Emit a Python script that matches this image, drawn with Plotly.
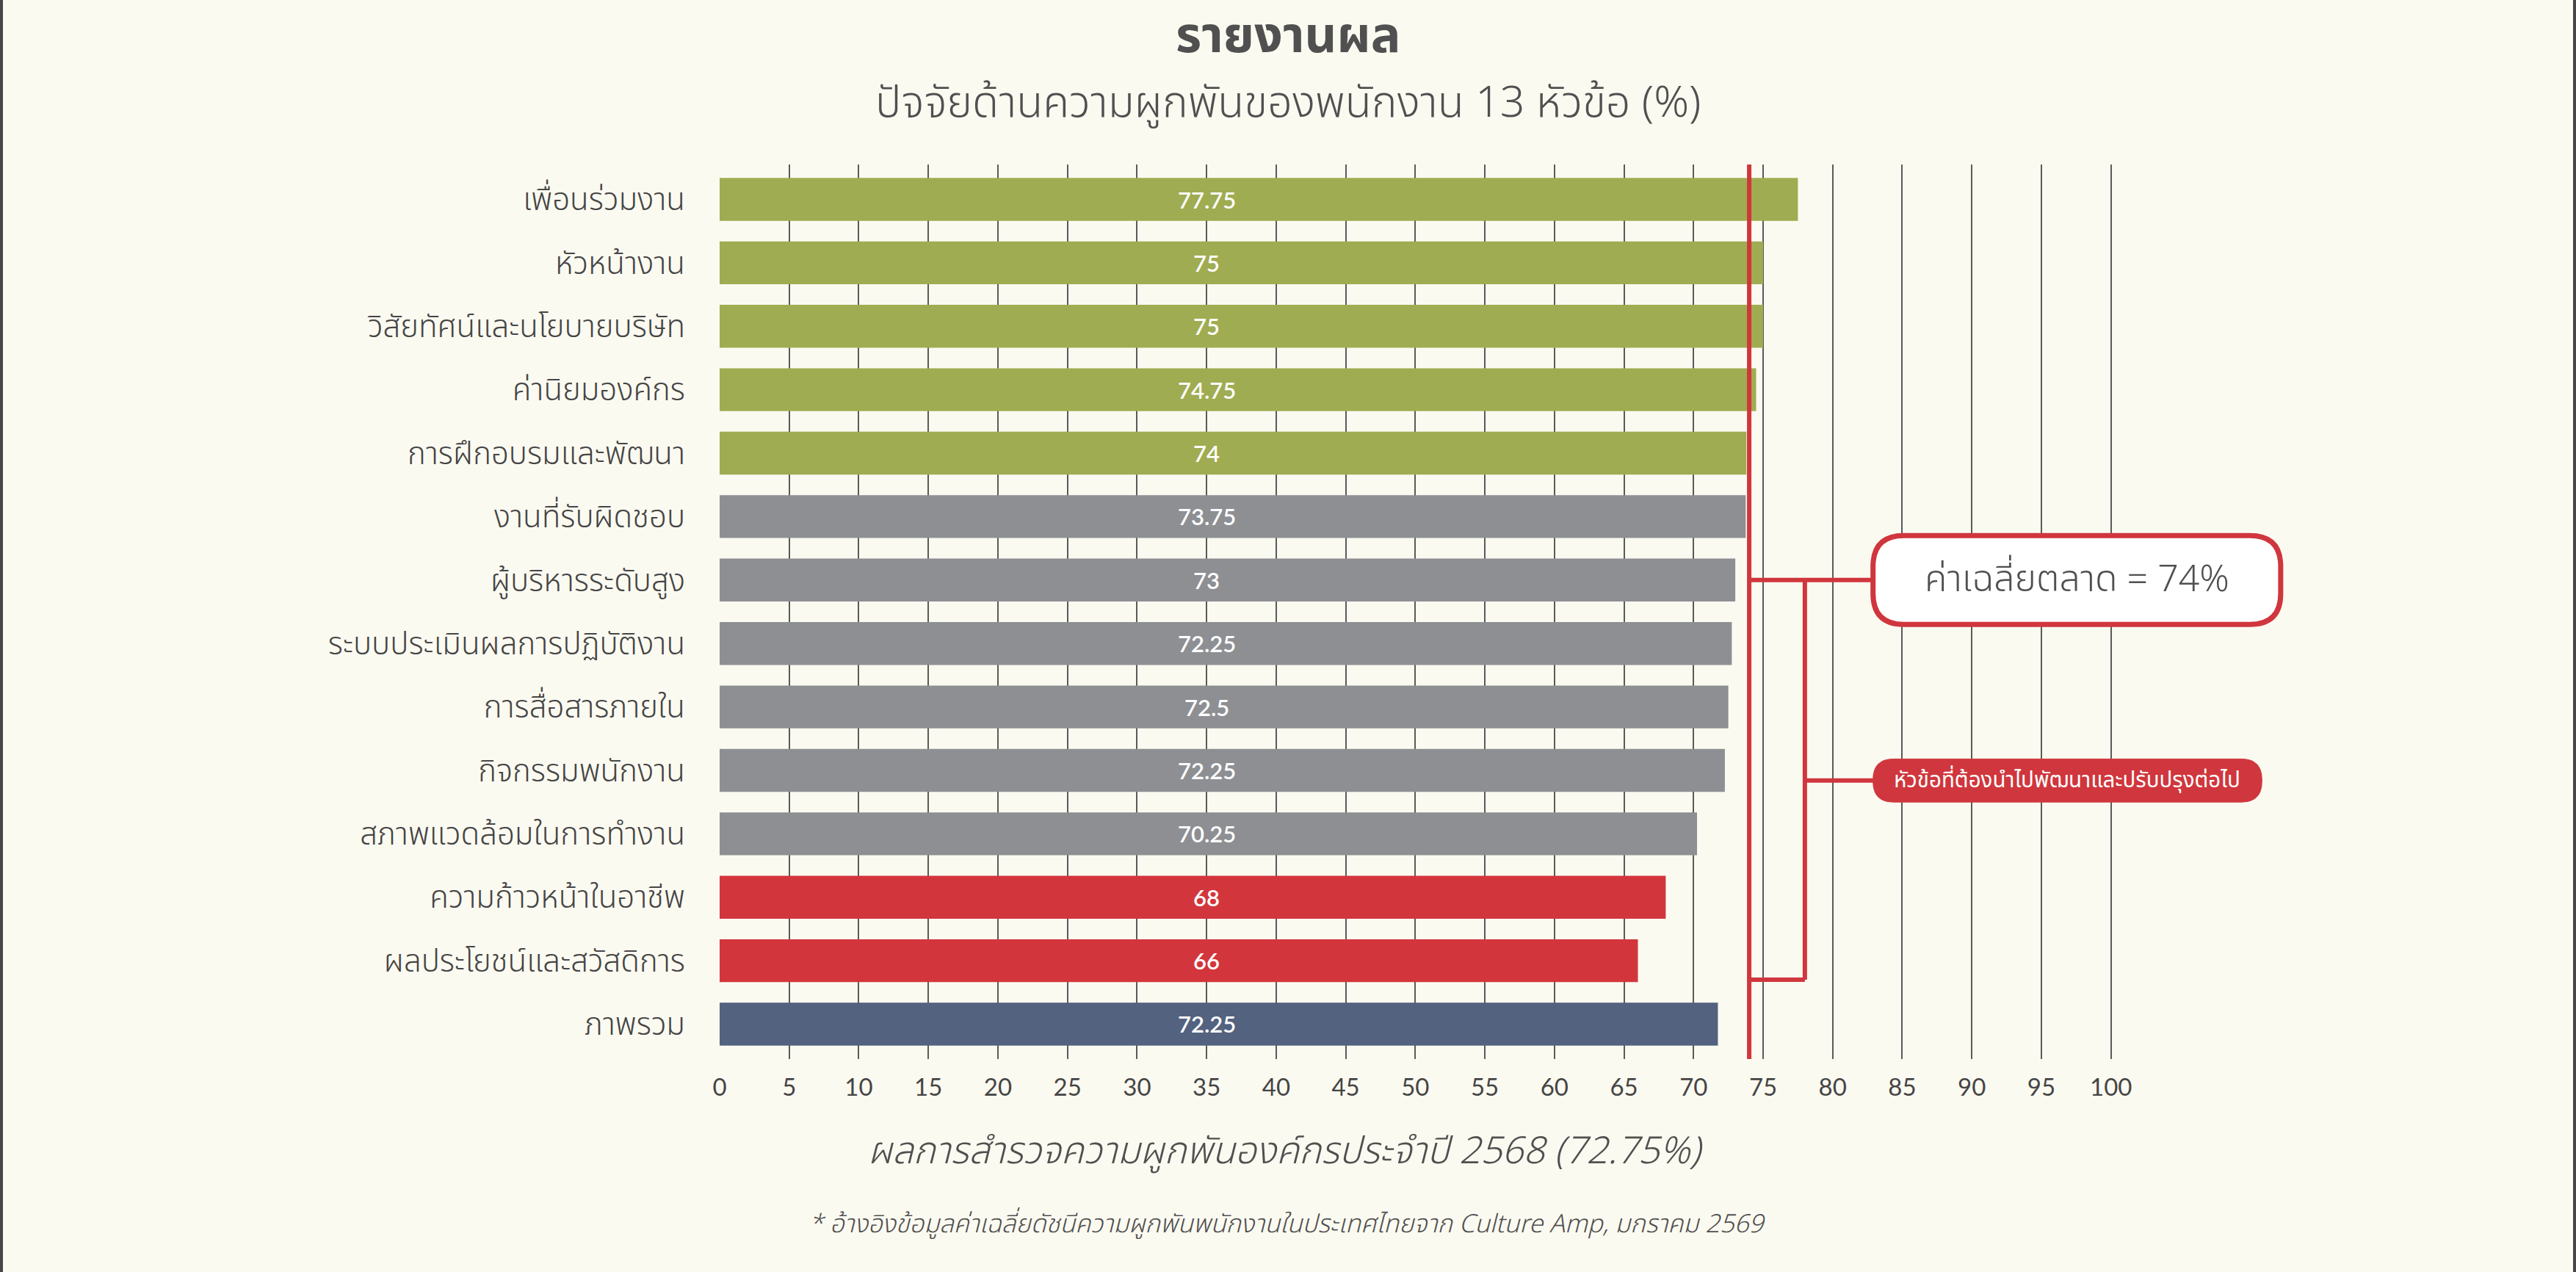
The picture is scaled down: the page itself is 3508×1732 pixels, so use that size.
import plotly.graph_objects as go

# ---------------- data ----------------
categories = [
    "เพื่อนร่วมงาน", "หัวหน้างาน", "วิสัยทัศน์และนโยบายบริษัท", "ค่านิยมองค์กร",
    "การฝึกอบรมและพัฒนา", "งานที่รับผิดชอบ", "ผู้บริหารระดับสูง",
    "ระบบประเมินผลการปฏิบัติงาน", "การสื่อสารภายใน", "กิจกรรมพนักงาน",
    "สภาพแวดล้อมในการทำงาน", "ความก้าวหน้าในอาชีพ", "ผลประโยชน์และสวัสดิการ", "ภาพรวม",
]
values = [77.5, 75, 75, 74.5, 73.8, 73.75, 73, 72.75, 72.5, 72.25, 70.25, 68, 66, 71.75]
value_labels = ["77.75", "75", "75", "74.75", "74", "73.75", "73", "72.25", "72.5",
                "72.25", "70.25", "68", "66", "72.25"]
groups = ["strength"] * 5 + ["neutral"] * 6 + ["improve"] * 2 + ["overall"]
market_avg = 74
x_ticks = list(range(0, 101, 5))

title = "รายงานผล"
subtitle = "ปัจจัยด้านความผูกพันของพนักงาน 13 หัวข้อ (%)"
x_title = "ผลการสำรวจความผูกพันองค์กรประจำปี 2568 (72.75%)"
footnote = "* อ้างอิงข้อมูลค่าเฉลี่ยดัชนีความผูกพันพนักงานในประเทศไทยจาก Culture Amp, มกราคม 2569"
avg_text = "ค่าเฉลี่ยตลาด = 74%"
improve_text = "หัวข้อที่ต้องนำไปพัฒนาและปรับปรุงต่อไป"

# ---------------- style ----------------
W, H = 3508, 1732
L, R, T, B = 980, 387, 224, 290
PW, PH = W - L - R, H - T - B
X_MAX = 113
BG = "#FBFAF1"
RED = "#D0363D"
TXT = "#505050"
GRID = "#5a5a5a"
group_colors = {"strength": "#A0AC51", "neutral": "#8E8F93", "improve": "#D2363C", "overall": "#53627F"}
THAI = "Noto Sans Thai, Noto Sans, sans-serif"
NUM = "Lato, Noto Sans, sans-serif"

def pxx(p):
    return (p - L) / PW

def pxy(p):
    return (H - B - p) / PH

n = len(categories)
fig = go.Figure()
fig.add_trace(go.Bar(
    y=categories, x=values, orientation="h",
    marker=dict(color=[group_colors[g] for g in groups], line=dict(width=0)),
    hoverinfo="skip", showlegend=False,
))

annotations = []
for cat, lab in zip(categories, value_labels):
    annotations.append(dict(x=35, y=cat, xref="x", yref="y", text=lab, showarrow=False,
                            font=dict(family=NUM, size=31, color="white", weight=600),
                            xanchor="center", yanchor="middle"))

shapes = []
line_w = 6
# market average line
shapes.append(dict(type="line", xref="x", yref="y", x0=market_avg, x1=market_avg,
                   y0=-0.55, y1=n - 0.45, line=dict(color=RED, width=line_w), layer="above"))
# bracket
bx = 78
row_avg = 6
row_bottom = 12.3
row_improve = 9.16
box_x0 = 82.9
shapes.append(dict(type="line", xref="x", yref="y", x0=market_avg, x1=box_x0, y0=row_avg, y1=row_avg,
                   line=dict(color=RED, width=line_w), layer="above"))
shapes.append(dict(type="line", xref="x", yref="y", x0=bx, x1=bx, y0=row_avg, y1=row_bottom,
                   line=dict(color=RED, width=line_w), layer="above"))
shapes.append(dict(type="line", xref="x", yref="y", x0=market_avg, x1=bx, y0=row_bottom, y1=row_bottom,
                   line=dict(color=RED, width=line_w), layer="above"))
shapes.append(dict(type="line", xref="x", yref="y", x0=bx, x1=box_x0, y0=row_improve, y1=row_improve,
                   line=dict(color=RED, width=line_w), layer="above"))

def rounded(x0, x1, y0, y1, rx, ry):
    return (f"M {x0+rx},{y0} L {x1-rx},{y0} Q {x1},{y0} {x1},{y0+ry} "
            f"L {x1},{y1-ry} Q {x1},{y1} {x1-rx},{y1} L {x0+rx},{y1} "
            f"Q {x0},{y1} {x0},{y1-ry} L {x0},{y0+ry} Q {x0},{y0} {x0+rx},{y0} Z")

ux, uy = PW / X_MAX, PH / (n + 0.1)
# average box
bx0, bx1 = box_x0, 112.2
shapes.append(dict(type="path", xref="x", yref="y",
                   path=rounded(bx0, bx1, row_avg - 0.70, row_avg + 0.70, 42 / ux, 42 / uy),
                   fillcolor="white", line=dict(color=RED, width=7), layer="above"))
annotations.append(dict(x=(bx0 + bx1) / 2, y=row_avg, xref="x", yref="y", text=avg_text, showarrow=False,
                        font=dict(family=THAI, size=50, color=TXT, weight=300),
                        xanchor="center", yanchor="middle"))
# improve pill
ix0, ix1 = box_x0, 110.85
shapes.append(dict(type="path", xref="x", yref="y",
                   path=rounded(ix0, ix1, row_improve - 0.34, row_improve + 0.34, 28 / ux, 28 / uy),
                   fillcolor=RED, line=dict(color=RED, width=1), layer="above"))
annotations.append(dict(x=(ix0 + ix1) / 2, y=row_improve, xref="x", yref="y", text=improve_text,
                        showarrow=False, font=dict(family=THAI, size=29.5, color="white", weight=400),
                        xanchor="center", yanchor="middle"))

# titles
annotations += [
    dict(x=pxx(1754), y=pxy(50), xref="paper", yref="paper", text=title, showarrow=False,
         font=dict(family=THAI, size=68, color=TXT, weight=700), xanchor="center", yanchor="middle"),
    dict(x=pxx(1754), y=pxy(141), xref="paper", yref="paper", text=subtitle, showarrow=False,
         font=dict(family=THAI, size=59, color=TXT, weight=300), xanchor="center", yanchor="middle"),
    dict(x=pxx(1750), y=pxy(1568), xref="paper", yref="paper", text=x_title, showarrow=False,
         font=dict(family=THAI, size=51, color=TXT, style="italic", weight=300),
         xanchor="center", yanchor="middle"),
    dict(x=pxx(1752), y=pxy(1667), xref="paper", yref="paper", text=footnote, showarrow=False,
         font=dict(family=THAI, size=34.5, color=TXT, style="italic", weight=300),
         xanchor="center", yanchor="middle"),
]

# side borders
for a, b in [(0, 4), (3504, 3508)]:
    shapes.append(dict(type="rect", xref="paper", yref="paper", x0=pxx(a), x1=pxx(b),
                       y0=pxy(H + 5), y1=pxy(-5), fillcolor="#474747", line=dict(width=0), layer="above"))

fig.update_layout(
    width=W, height=H,
    margin=dict(l=L, r=R, t=T, b=B, autoexpand=False),
    paper_bgcolor=BG, plot_bgcolor=BG,
    bargap=0.324,
    shapes=shapes, annotations=annotations,
    showlegend=False,
)
fig.update_xaxes(
    range=[0, X_MAX], tickvals=x_ticks, ticktext=[str(v) for v in x_ticks],
    showgrid=True, gridcolor=GRID, gridwidth=1.6, zeroline=False, showline=False,
    ticks="", ticklabelstandoff=16,
    tickfont=dict(family=NUM, size=33, color="#454545"),
    fixedrange=True, automargin=False,
)
fig.update_yaxes(
    type="category", range=[n - 0.45, -0.55], showgrid=False, zeroline=False, showline=False,
    ticks="", ticklabelstandoff=46,
    tickfont=dict(family=THAI, size=42, color="#454545", weight=300),
    fixedrange=True, automargin=False,
)

fig.write_html("out.html", config={"displayModeBar": False})
